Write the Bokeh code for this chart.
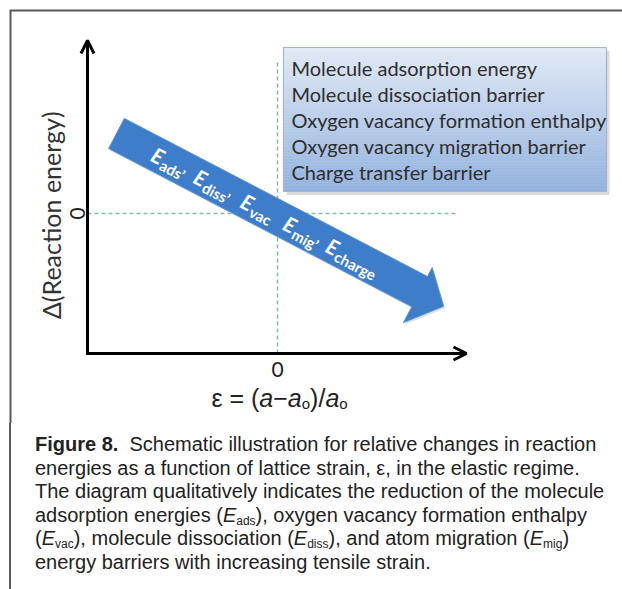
import re
import numpy as np
from bokeh.plotting import figure
from bokeh.models import Range1d, Arrow, OpenHead, Div
from bokeh.layouts import column
from bokeh.embed import file_html
from bokeh.resources import INLINE
from bokeh.core.properties import value

# ---------------- data ----------------
y_title = "Δ(Reaction energy)"
zero_tick = "0"
box_items = [
    "Molecule adsorption energy",
    "Molecule dissociation barrier",
    "Oxygen vacancy formation enthalpy",
    "Oxygen vacancy migration barrier",
    "Charge transfer barrier",
]
arrow_symbol = "E"
arrow_subscripts = ["ads’", "diss’", "vac", "mig’", "charge"]
# x-axis title pieces: (text, style, is_subscript)
strain_title = [("ε = (", "normal", False), ("a", "italic", False), ("−", "normal", False),
                ("a", "italic", False), ("o", "normal", True), (")/", "normal", False),
                ("a", "italic", False), ("o", "normal", True)]
caption_lines = [
    "<b>Figure 8.</b>&nbsp; Schematic illustration for relative changes in reaction",
    "energies as a function of lattice strain, ε, in the elastic regime.",
    "The diagram qualitatively indicates the reduction of the molecule",
    "adsorption energies (E_ads), oxygen vacancy formation enthalpy",
    "(E_vac), molecule dissociation (E_diss), and atom migration (E_mig)",
    "energy barriers with increasing tensile strain.",
]
# schematic coordinates (arbitrary units, zero strain / zero energy at origin)
strain_extent = (-1.90, 1.89)
energy_extent = (-1.40, 1.73)
trend_start = (-1.61, 0.80)
trend_end = (1.67, -0.91)

# ---------------- figure ----------------
W, H, HC = 622, 423, 166
p = figure(width=W, height=H, x_range=Range1d(-2.77, 3.45), y_range=Range1d(-2.10, 2.13),
           output_backend="svg", toolbar_location=None, min_border=0,
           x_axis_type=None, y_axis_type=None, outline_line_color=None,
           background_fill_color="white", border_fill_color="white")
p.xgrid.visible = False
p.ygrid.visible = False

FRAME = "#5a5a5a"
p.line([-2.67, -2.67, 3.45], [-2.10, 2.03, 2.03], line_color=FRAME, line_width=2, line_join="miter")

# dashed zero lines
DASH = "#86b9ad"
p.line([0, 0], [energy_extent[0], 1.53], line_color=DASH, line_width=1.5, line_dash="4 3")
p.line([strain_extent[0], 1.81], [0, 0], line_color=DASH, line_width=1.5, line_dash="4 3")

# legend box with vertical gradient
bx0, bx1, by0, by1 = 0.06, 3.29, 0.22, 1.66
p.quad(left=bx0 + 0.03, right=bx1 + 0.03, bottom=by0 - 0.035, top=by1 - 0.035,
       fill_color="#9a9a9a", fill_alpha=0.35, line_color=None)
n = 48
edges = np.linspace(by1, by0, n + 1)
c_top = np.array([0xe3, 0xeb, 0xf7])
c_bot = np.array([0x92, 0xb2, 0xdf])
cols = []
for i in range(n):
    t = (i + 0.5) / n
    c = (c_top * (1 - t) + c_bot * t).astype(int)
    cols.append("#%02x%02x%02x" % tuple(c))
p.quad(left=bx0, right=bx1, top=edges[:-1], bottom=edges[1:] - 0.002, fill_color=cols, line_color=None)
p.quad(left=[bx0], right=[bx1], top=[by1], bottom=[by0], fill_alpha=0, line_color="#9fb6d8", line_width=1.2)
box_y = np.linspace(1.46, 0.42, len(box_items))
p.text(x=[0.14] * len(box_items), y=box_y, text=box_items, text_font=value("Lato"),
       text_font_size="20px", text_color="#2e2e2e", text_align="left", text_baseline="middle")

# big trend arrow
sx, sy = trend_start
ex, ey = trend_end
L = np.hypot(ex - sx, ey - sy)
u = np.array([(ex - sx) / L, (ey - sy) / L])
nv = np.array([-u[1], u[0]])
shaft_hw, head_up, head_dn, head_len = 0.17, 0.27, 0.35, 0.28
outline = [(0, shaft_hw), (L - head_len, shaft_hw), (L - head_len, head_up), (L, -0.02),
           (L - head_len, -head_dn), (L - head_len, -shaft_hw), (0, -shaft_hw)]
ax_ = [sx + a * u[0] + b * nv[0] for a, b in outline]
ay_ = [sy + a * u[1] + b * nv[1] for a, b in outline]
p.patch([x + 0.015 for x in ax_], [y - 0.02 for y in ay_], fill_color="#9aa9bd", fill_alpha=0.35, line_color=None)
p.patch(ax_, ay_, fill_color="#3e7dca", line_color="#5b90d2", line_width=1)

ang = float(np.arctan2(u[1], u[0]))
e_along = [0.47, 0.95, 1.48, 1.96, 2.44]
ex_pts = [sx + a * u[0] for a in e_along]
ey_pts = [sy + a * u[1] for a in e_along]
p.text(x=ex_pts, y=ey_pts, text=[arrow_symbol] * len(arrow_subscripts), angle=ang,
       text_font=value("Lato"), text_font_style="bold italic", text_font_size="21px",
       text_color="white", text_align="center", text_baseline="middle")
sub_x = [sx + (a + 0.065) * u[0] - 0.065 * nv[0] for a in e_along]
sub_y = [sy + (a + 0.065) * u[1] - 0.065 * nv[1] for a in e_along]
p.text(x=sub_x, y=sub_y, text=arrow_subscripts, angle=ang,
       text_font=value("Lato"), text_font_style="bold", text_font_size="15px",
       text_color="white", text_align="left", text_baseline="middle")

# axes (L shape) with arrow heads
x0, x1 = strain_extent
y0, y1 = energy_extent
p.line([x1 - 0.02, x0, x0], [y0, y0, y1 - 0.02], line_color="black", line_width=3, line_join="miter")
p.add_layout(Arrow(end=OpenHead(size=13, line_width=3, line_color="black"),
                   x_start=x0, y_start=y1 - 0.2, x_end=x0, y_end=y1, line_alpha=0))
p.add_layout(Arrow(end=OpenHead(size=13, line_width=3, line_color="black"),
                   x_start=x1 - 0.2, y_start=y0, x_end=x1, y_end=y0, line_alpha=0))

# tick zero labels and titles
p.text(x=[0.0], y=[-1.56], text=[zero_tick], text_font=value("Lato"), text_font_size="21px",
       text_color="#222222", text_align="center", text_baseline="middle")
p.text(x=[-2.00], y=[0.0], text=[zero_tick], angle=np.pi / 2, text_font=value("Lato"),
       text_font_size="21px", text_color="#222222", text_align="center", text_baseline="middle")
p.text(x=[-2.27], y=[-0.02], text=[y_title], angle=np.pi / 2, text_font=value("Lato"),
       text_font_size="25px", text_color="#333333", text_align="center", text_baseline="middle")

# strain title assembled from pieces (Arial / Liberation Sans advance widths, em)
em_w = {"ε": 0.446, " ": 0.278, "=": 0.584, "(": 0.333, ")": 0.333, "/": 0.278,
        "a": 0.556, "−": 0.584, "o": 0.556}
fs, sub_fs = 25.0, 15.0
widths = [sum(em_w[c] for c in t) * (sub_fs if sub else fs) / 100 for t, _, sub in strain_title]
cx = 0.02 - sum(widths) / 2
ty = -1.84
for (t, style, sub), w in zip(strain_title, widths):
    p.text(x=[cx], y=[ty - (0.06 if sub else 0)], text=[t], text_font=value("Liberation Sans"),
           text_font_style=style, text_font_size=f"{sub_fs if sub else fs}px",
           text_color="#222222", text_align="left", text_baseline="middle")
    cx += w

# ---------------- caption ----------------
def fmt(line):
    return re.sub(r"E_(\w+)", r'<i>E</i><span style="font-size:0.6em;vertical-align:-0.25em;line-height:0">\1</span>', line)

html = ('<div style="box-sizing:border-box;height:%dpx;margin-left:9px;border-left:2px solid %s;'
        'padding-left:24px;padding-top:10px;font-family:\'Liberation Sans\',Arial,sans-serif;'
        'font-size:20px;line-height:23.5px;color:#222;white-space:nowrap;">%s</div>'
        % (HC, FRAME, "<br>".join(fmt(l) for l in caption_lines)))
cap = Div(text=html, width=W, height=HC, margin=0)

layout = column(p, cap, spacing=0)
open("out.html", "w").write(file_html(layout, INLINE))
